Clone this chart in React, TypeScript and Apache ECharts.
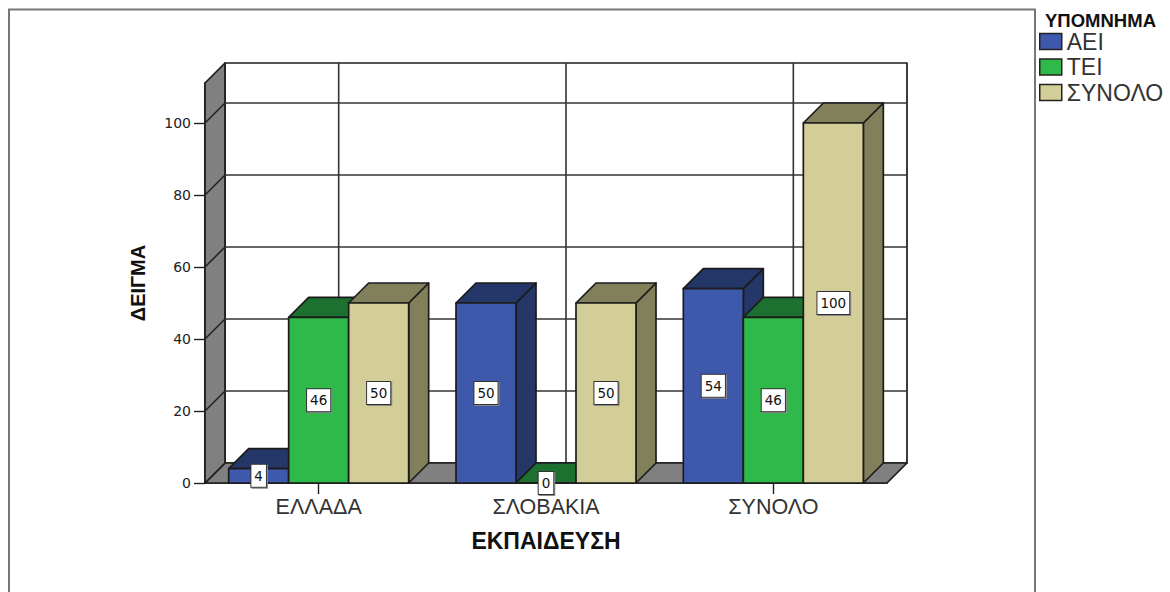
import React, { useEffect, useRef } from "react";
import * as echarts from "echarts";

const categories = ["ΕΛΛΑΔΑ", "ΣΛΟΒΑΚΙΑ", "ΣΥΝΟΛΟ"];
const aei = [4, 50, 54];
const tei = [46, 0, 46];
const synolo = [50, 50, 100];
const yTicks = [0, 20, 40, 60, 80, 100];
const yMax = 111.11;
const legendTitle = "ΥΠΟΜΝΗΜΑ";
const xName = "ΕΚΠΑΙΔΕΥΣΗ";
const yName = "ΔΕΙΓΜΑ";

const DEPTH = 20;
const BAR_FRACTION = 60 / 227.33;
const EDGE = "#1c1c1c";
const FONT = '"Liberation Sans", Arial, sans-serif';
const NUM_FONT = '"DejaVu Sans", sans-serif';

function poly(points: number[][], fill: string, stroke = EDGE, lineWidth = 1.7) {
  return { type: "polygon", shape: { points }, style: { fill, stroke, lineWidth, lineJoin: "round" } };
}

function seg(x1: number, y1: number, x2: number, y2: number, stroke: string, lineWidth = 1.6) {
  return { type: "line", shape: { x1, y1, x2, y2 }, style: { stroke, lineWidth } };
}

function barSeries(name: string, values: number[], slot: number, front: string, shade: string) {
  return {
    name,
    type: "custom",
    coordinateSystem: "cartesian2d",
    clip: false,
    itemStyle: { color: front },
    encode: { x: 0, y: 1 },
    data: values.map((v, i) => [i, v]),
    renderItem: (_: any, api: any) => {
      const [cx, top] = api.coord([api.value(0), api.value(1)]);
      const [, base] = api.coord([api.value(0), 0]);
      const w = api.size([1, 0])[0] * BAR_FRACTION;
      const x0 = cx + (slot - 1.5) * w;
      const x1 = x0 + w;
      const d = DEPTH;
      return {
        type: "group",
        children: [
          poly([[x1, top], [x1 + d, top - d], [x1 + d, base - d], [x1, base]], shade),
          poly([[x0, top], [x0 + d, top - d], [x1 + d, top - d], [x1, top]], shade),
          poly([[x0, base], [x1, base], [x1, top], [x0, top]], front),
          {
            type: "text",
            z2: 50,
            style: {
              text: String(api.value(1)),
              x: (x0 + x1) / 2,
              y: (top + base) / 2,
              align: "center",
              verticalAlign: "middle",
              fill: "#111",
              font: `13.5px ${NUM_FONT}`,
              backgroundColor: "#ffffff",
              borderColor: "#333",
              borderWidth: 1,
              padding: [4, 3, 4, 3],
              shadowColor: "#888",
              shadowBlur: 0,
              shadowOffsetX: 1,
              shadowOffsetY: 1,
            },
          },
        ],
      };
    },
  };
}

const backdrop = {
  name: "backdrop",
  type: "custom",
  coordinateSystem: "cartesian2d",
  clip: false,
  silent: true,
  encode: { y: 0 },
  data: yTicks.map((v) => [v]),
  renderItem: (params: any, api: any) => {
    const d = DEPTH;
    const span = api.size([1, 0])[0];
    const [c0, base] = api.coord([0, 0]);
    const left = c0 - span / 2;
    const right = left + span * categories.length;
    const [, top] = api.coord([0, yMax]);
    const [, y] = api.coord([0, api.value(0)]);
    const children: any[] = [];
    if (params.dataIndex === 0) {
      children.push(
        poly([[left + d, top - d], [right + d, top - d], [right + d, base - d], [left + d, base - d]], "#ffffff"),
        poly([[left, base], [left + d, base - d], [right + d, base - d], [right, base]], "#808080"),
      );
      categories.forEach((_, i) => {
        const xv = api.coord([i, 0])[0] + d;
        children.push(seg(xv, top - d, xv, base - d, "#333"));
      });
      children.push(poly([[left, top], [left + d, top - d], [left + d, base - d], [left, base]], "#808080"));
    } else {
      children.push(seg(left + d, y - d, right + d, y - d, "#333"));
      children.push(seg(left, y, left + d, y - d, "#222"));
    }
    return { type: "group", children };
  },
};

export default function App() {
  const ref = useRef<HTMLDivElement>(null);
  useEffect(() => {
    const chart = echarts.init(ref.current!, undefined, { renderer: "svg" });
    chart.setOption({
      animation: false,
      backgroundColor: "#ffffff",
      grid: { left: 205, top: 83, width: 682, height: 400, containLabel: false },
      legend: {
        orient: "vertical",
        left: 1039,
        top: 30,
        padding: 0,
        itemWidth: 22,
        itemHeight: 16,
        itemGap: 2.5,
        icon: "rect",
        selectedMode: false,
        data: ["ΑΕΙ", "ΤΕΙ", "ΣΥΝΟΛΟ"],
        itemStyle: { borderColor: "#222", borderWidth: 1.5 },
        textStyle: { fontFamily: FONT, fontSize: 23, color: "#333" },
      },
      xAxis: {
        type: "category",
        data: categories,
        name: xName,
        nameLocation: "middle",
        nameGap: 46,
        nameTextStyle: { fontFamily: FONT, fontSize: 23, fontWeight: "bold", color: "#111" },
        axisLine: { show: true, lineStyle: { color: "#111", width: 1.7 } },
        axisTick: { show: true, alignWithLabel: true, length: 11, lineStyle: { color: "#222", width: 1.4 } },
        axisLabel: { interval: 0, margin: 13, fontFamily: FONT, fontSize: 21.5, color: "#333" },
        splitLine: { show: false },
      },
      yAxis: {
        type: "value",
        min: 0,
        max: yMax,
        interval: 20,
        name: yName,
        nameLocation: "middle",
        nameGap: 57,
        nameRotate: 90,
        nameTextStyle: { fontFamily: FONT, fontSize: 20, fontWeight: "bold", color: "#111" },
        axisLine: { show: true, lineStyle: { color: "#111", width: 1.7 } },
        axisTick: { show: true, length: 11, customValues: yTicks, lineStyle: { color: "#222", width: 1.4 } },
        axisLabel: { margin: 14, customValues: yTicks, fontFamily: NUM_FONT, fontSize: 14, color: "#222" },
        splitLine: { show: false },
      },
      graphic: [
        {
          type: "polyline",
          silent: true,
          shape: { points: [[9, 592], [9, 9.5], [1035, 9.5], [1035, 592]] },
          style: { fill: "none", stroke: "#777", lineWidth: 2 },
        },
        {
          type: "text",
          left: 1045,
          top: 11,
          style: { text: legendTitle, font: `bold 18.5px ${FONT}`, fill: "#111" },
        },
      ],
      series: [
        backdrop,
        barSeries("ΑΕΙ", aei, 0, "#3e58ac", "#253669"),
        barSeries("ΤΕΙ", tei, 1, "#2eb94a", "#1c7030"),
        barSeries("ΣΥΝΟΛΟ", synolo, 2, "#d3ce97", "#82805a"),
      ],
    });
    return () => chart.dispose();
  }, []);
  return <div ref={ref} style={{ position: "fixed", left: 0, top: 0, width: 1170, height: 592 }} />;
}
